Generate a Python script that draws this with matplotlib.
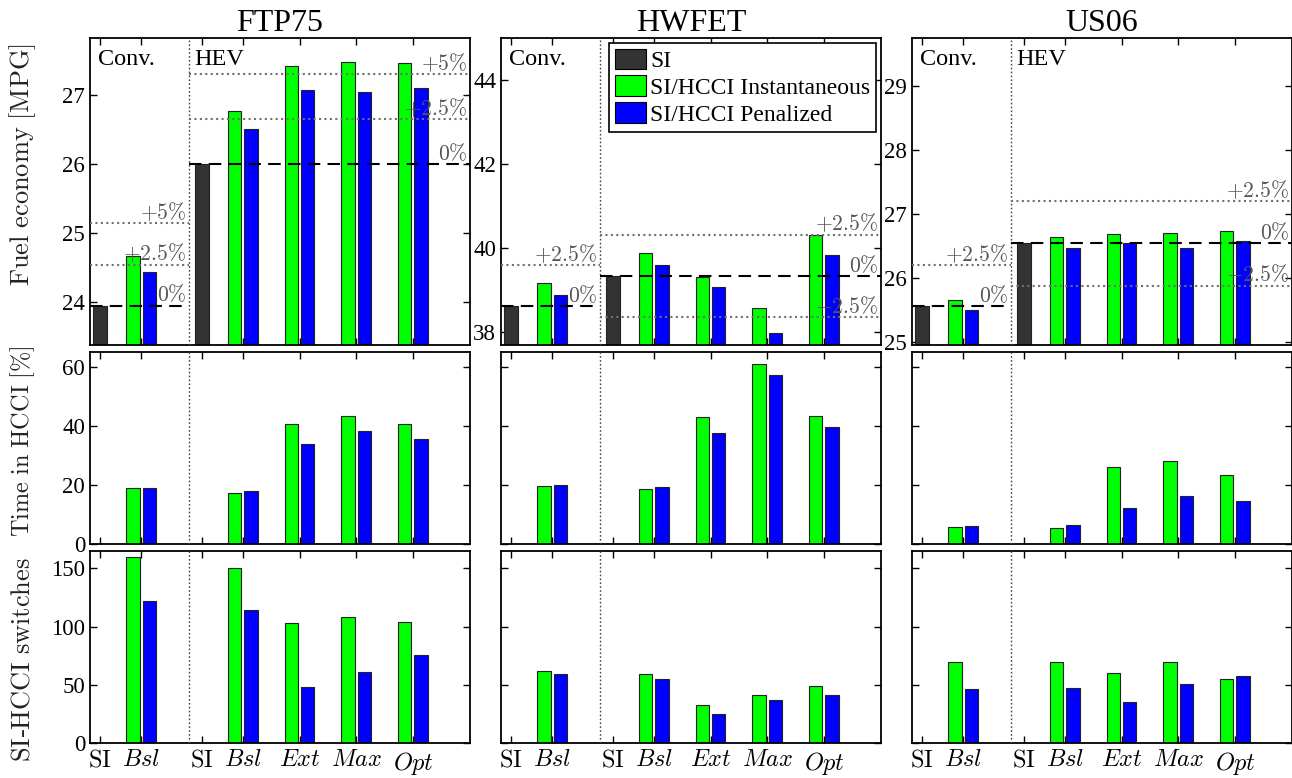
import numpy as np
import matplotlib
matplotlib.use('Agg')
import matplotlib.pyplot as plt
from matplotlib.patches import Patch

plt.rcParams['font.family'] = 'Liberation Serif'
plt.rcParams['mathtext.fontset'] = 'cm'

# ---- data ----
cycles = ['FTP75', 'HWFET', 'US06']
cats = [r'$\mathrm{SI}$', r'$Bsl$', r'$\mathrm{SI}$', r'$Bsl$', r'$Ext$', r'$Max$', r'$Opt$']
legend_labels = ['SI', 'SI/HCCI Instantaneous', 'SI/HCCI Penalized']

# fuel economy [MPG]: SI (conv, HEV) ; HCCI bars (Bsl conv, Bsl HEV, Ext, Max, Opt)
ftp_si = [23.94, 26.00]
ftp_inst = [24.67, 26.77, 27.43, 27.48, 27.46]
ftp_pen = [24.43, 26.51, 27.07, 27.05, 27.10]
hw_si = [38.63, 39.34]
hw_inst = [39.18, 39.89, 39.31, 38.59, 40.31]
hw_pen = [38.88, 39.60, 39.09, 37.99, 39.85]
us_si = [25.56, 26.54]
us_inst = [25.66, 26.64, 26.69, 26.70, 26.73]
us_pen = [25.50, 26.47, 26.54, 26.47, 26.58]

# time in HCCI [%]
ftp_t_inst = [19.0, 17.1, 40.5, 43.4, 40.5]
ftp_t_pen = [19.1, 17.8, 34.0, 38.2, 35.7]
hw_t_inst = [19.5, 18.6, 43.0, 60.9, 43.5]
hw_t_pen = [20.1, 19.4, 37.7, 57.1, 39.6]
us_t_inst = [5.7, 5.5, 25.9, 28.2, 23.5]
us_t_pen = [6.2, 6.4, 12.2, 16.1, 14.5]

# SI-HCCI switches
ftp_s_inst = [160, 150, 103, 108, 104]
ftp_s_pen = [122, 114, 48, 61, 76]
hw_s_inst = [62, 59, 33, 41, 49]
hw_s_pen = [59, 55, 25, 37, 41]
us_s_inst = [70, 70, 60, 70, 55]
us_s_pen = [46, 47, 35, 51, 58]

# reference percent lines (conv section, HEV section)
ftp_pct = ([0, 2.5, 5], [0, 2.5, 5])
hw_pct = ([0, 2.5], [-2.5, 0, 2.5])
us_pct = ([0, 2.5], [-2.5, 0, 2.5])

fe_ylim = [(23.37, 27.83), (37.70, 45.0), (24.95, 29.75)]
fe_ticks = [[24, 25, 26, 27], [38, 40, 42, 44], [25, 26, 27, 28, 29]]

fe = [(ftp_si, ftp_inst, ftp_pen), (hw_si, hw_inst, hw_pen), (us_si, us_inst, us_pen)]
tm = [(ftp_t_inst, ftp_t_pen), (hw_t_inst, hw_t_pen), (us_t_inst, us_t_pen)]
sw = [(ftp_s_inst, ftp_s_pen), (hw_s_inst, hw_s_pen), (us_s_inst, us_s_pen)]
pcts = [ftp_pct, hw_pct, us_pct]

# ---- layout ----
pos = np.array([1.0, 1.73, 2.8, 3.52, 4.52, 5.52, 6.52])
pos_si = pos[[0, 2]]
pos_h = pos[[1, 3, 4, 5, 6]]
xlim = (0.824, 7.525)
divider = 2.57
bw = 0.236
c_si, c_in, c_pe = '#333333', '#00ff00', '#0000ff'

W, H = 1292, 778
fig = plt.figure(figsize=(W / 100, H / 100), dpi=100)
lefts = [90, 501, 912]
rows = [(38, 345), (352, 544), (551, 743)]


def make_ax(x0, y0, y1):
    ax = fig.add_axes([x0 / W, 1 - y1 / H, 380 / W, (y1 - y0) / H])
    ax.set_xlim(*xlim)
    ax.set_xticks(pos)
    ax.tick_params(direction='in', top=True, right=True, length=5, width=1,
                   labelsize=16.5)
    for s in ax.spines.values():
        s.set_linewidth(1.3)
    ax.axvline(divider, color='#444444', ls=(0, (1.2, 1.6)), lw=1, zorder=3)
    return ax


def bars(ax, si, inst, pen):
    kw = dict(width=bw, edgecolor='#222222', linewidth=0.8, zorder=2)
    ax.bar(pos_si, si, color=c_si, **kw)
    ax.bar(pos_h - 0.145, inst, color=c_in, **kw)
    ax.bar(pos_h + 0.14, pen, color=c_pe, **kw)


def pct_label(p):
    if p == 0:
        return r'$0\%$'
    if p > 0:
        return r'$+%g\%%$' % p
    return r'$-%g\%%$' % abs(p)


for j in range(3):
    x0 = lefts[j]
    # fuel economy
    ax = make_ax(x0, *rows[0])
    si, inst, pen = fe[j]
    bars(ax, si, inst, pen)
    ax.set_ylim(*fe_ylim[j])
    ax.set_yticks(fe_ticks[j])
    ax.set_xticklabels([])
    ax.set_title(cycles[j], fontsize=23, pad=5)
    sections = [(xlim[0], divider), (divider, xlim[1])]
    for k, (xa, xb) in enumerate(sections):
        for p in pcts[j][k]:
            y = si[k] * (1 + p / 100)
            if p == 0:
                ax.plot([xa, xb], [y, y], color='k', lw=1.5, dashes=(6, 3.5), zorder=4)
            else:
                ax.plot([xa, xb], [y, y], color='#707070', lw=1.5, dashes=(1, 1.6), zorder=4)
            ax.annotate(pct_label(p), xy=(xb, y), xytext=(-2, 3),
                        textcoords='offset points', ha='right', va='baseline',
                        fontsize=15.5, color='#555555', zorder=5)
    ax.text(0.021, 0.965, 'Conv.', transform=ax.transAxes, ha='left', va='top',
            fontsize=17.5)
    if j != 1:
        ax.text(divider + 0.1, fe_ylim[j][1] - 0.035 * (fe_ylim[j][1] - fe_ylim[j][0]),
                'HEV', ha='left', va='top', fontsize=17.5)
    else:
        handles = [Patch(fc=c, ec='k', lw=0.8) for c in (c_si, c_in, c_pe)]
        leg = ax.legend(handles, legend_labels, loc='upper right', fontsize=17,
                        frameon=True, fancybox=False, edgecolor='k', framealpha=1,
                        borderaxespad=0.2, handlelength=1.3, handleheight=0.95,
                        handletextpad=0.2, labelspacing=0.15, borderpad=0.25)
        leg.get_frame().set_linewidth(1.2)
        leg.set_zorder(10)

    # time in HCCI
    ax = make_ax(x0, *rows[1])
    bars(ax, [0, 0], tm[j][0], tm[j][1])
    ax.set_ylim(0, 65)
    ax.set_yticks([0, 20, 40, 60])
    ax.set_xticklabels([])
    if j > 0:
        ax.set_yticklabels([])

    # switches
    ax = make_ax(x0, *rows[2])
    bars(ax, [0, 0], sw[j][0], sw[j][1])
    ax.set_ylim(0, 165)
    ax.set_yticks([0, 50, 100, 150])
    ax.set_xticklabels(cats, fontsize=17.5)
    ax.tick_params(axis='x', pad=5)
    if j > 0:
        ax.set_yticklabels([])

fig.text(23 / W, 1 - 165 / H, r'$\mathrm{Fuel\ economy\ [MPG]}$', rotation=90,
         ha='center', va='center', fontsize=19, color='#222222')
fig.text(23 / W, 1 - 441 / H, r'$\mathrm{Time\ in\ HCCI\ [\%]}$', rotation=90,
         ha='center', va='center', fontsize=17.5, color='#222222')
fig.text(23 / W, 1 - 660 / H, r'$\mathrm{SI}$-$\mathrm{HCCI\ switches}$', rotation=90,
         ha='center', va='center', fontsize=19, color='#222222')

fig.savefig('out.png', dpi=100)
